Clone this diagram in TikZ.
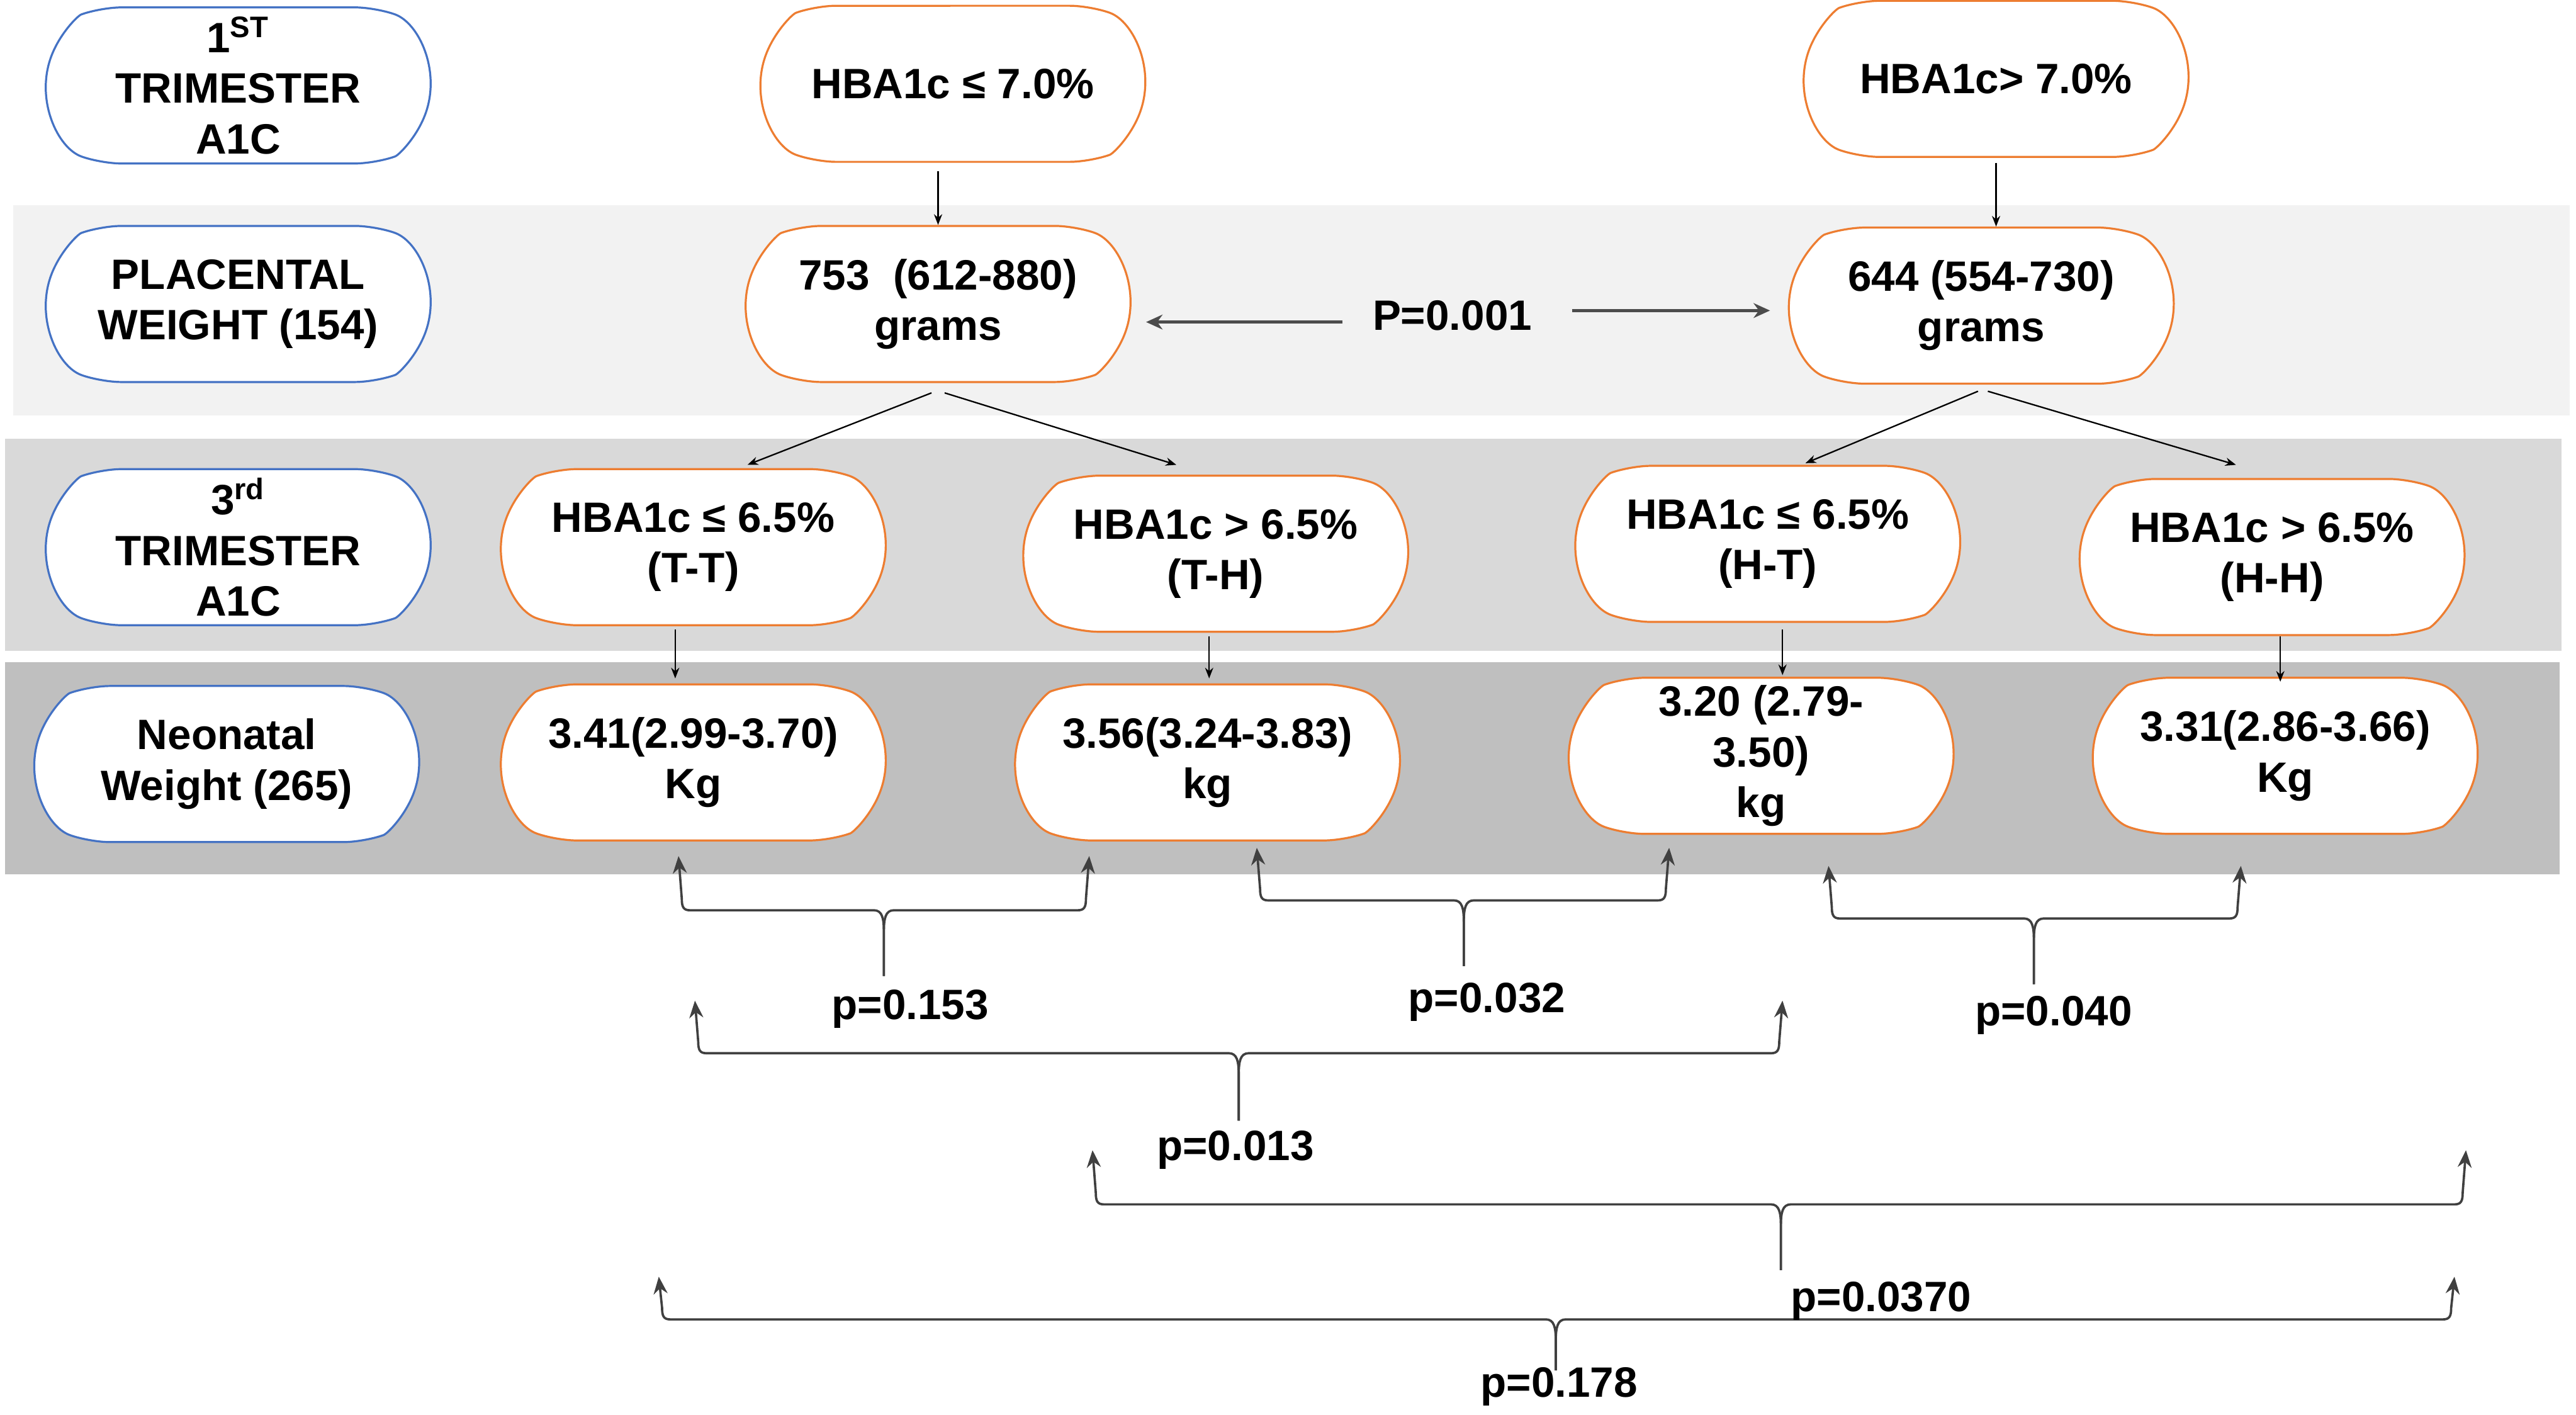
\documentclass[tikz,border=0pt]{standalone}
\usepackage{fontspec}
\setmainfont{Liberation Sans}
\usetikzlibrary{shapes.misc,calc,arrows.meta}

\definecolor{boxorange}{HTML}{ED7D31}
\definecolor{boxblue}{HTML}{4472C4}
\definecolor{band1}{HTML}{F2F2F2}
\definecolor{band2}{HTML}{D9D9D9}
\definecolor{band3}{HTML}{BFBFBF}

\begin{document}
\begin{tikzpicture}[x=0.2mm, y=-0.2mm,
  every node/.style={font=\fontsize{14.7}{17.5}\selectfont\bfseries, align=center},
  pill/.style={rounded rectangle, rounded rectangle arc length=140, rounded corners=2.5mm,
    draw, fill=white, line width=0.7pt, minimum width=46.8mm, minimum height=19mm, inner sep=0pt},
  rowlabel/.style={pill, draw=boxblue},
  group/.style={pill, draw=boxorange},
  link/.style={->, >={Stealth[length=1.3mm, width=1mm]}, line width=0.5pt},
  plink/.style={->, >={Stealth[length=2mm, width=1.8mm]}, line width=1.2pt, black!70},
  pbrace/.style={->, >={Stealth[length=2.1mm, width=1.7mm]}, draw=black!75, line width=0.8pt}]

% The picture is measured in pixels of the shrunk figure, y going down
\useasboundingbox (0,0) rectangle (1568,861);

% Shaded bands behind the rows
\fill[band1] (8,125) rectangle (1564,253);
\fill[band2] (3,267) rectangle (1559,396);
\fill[band3] (3,403) rectangle (1558,532);

% Row titles
\node[rowlabel] (first)    at (145,52)  {1\textsuperscript{ST}\\TRIMESTER\\A1C};
\node[rowlabel] (placenta) at (145,185) {PLACENTAL\\WEIGHT (154)};
\node[rowlabel] (third)    at (145,333) {3\textsuperscript{rd}\\TRIMESTER\\A1C};
\node[rowlabel] (neonatal) at (138,465) {Neonatal\\Weight (265)};

% 1st trimester groups and placental weight
\node[group] (low1)   at (580,51)  {HBA1c ≤ 7.0\%};
\node[group] (high1)  at (1215,48) {HBA1c> 7.0\%};
\node[group] (pwlow)  at (571,185) {753\ \ (612-880)\\grams};
\node[group] (pwhigh) at (1206,186) {644 (554-730)\\grams};
\node[inner sep=0pt] (p001) at (884,192) {P=0.001};

% 3rd trimester groups
\node[group] (tt) at (422,333)  {HBA1c ≤ 6.5\%\\(T-T)};
\node[group] (th) at (740,337)  {HBA1c > 6.5\%\\(T-H)};
\node[group] (ht) at (1076,331) {HBA1c ≤ 6.5\%\\(H-T)};
\node[group] (hh) at (1383,339) {HBA1c > 6.5\%\\(H-H)};

% Neonatal weights
\node[group] (wtt) at (422,464)  {3.41(2.99-3.70)\\Kg};
\node[group] (wth) at (735,464)  {3.56(3.24-3.83)\\kg};
\node[group] (wht) at (1072,460) {3.20 (2.79-\\3.50)\\kg};
\node[group] (whh) at (1391,460) {3.31(2.86-3.66)\\Kg};

% Arrows down the tree
\draw[link, shorten <=1mm] (pwlow.north |- low1.south) -- (pwlow.north);
\draw[link, shorten <=0.6mm] (high1.south) -- (high1.south |- pwhigh.north);
\draw[link] ($(pwlow.south)+(-4,6)$) -- ($(tt.north)+(33,-2)$);
\draw[link] ($(pwlow.south)+(4,6)$) -- ($(th.north)+(-24,-6)$);
\draw[link] ($(pwhigh.south)+(-2,4)$) -- ($(ht.north)+(23,-1)$);
\draw[link] ($(pwhigh.south)+(4,4)$) -- ($(hh.north)+(-22,-8)$);
\draw[link] ($(tt.south)+(-11,2)$) -- ($(wtt.north)+(-11,-3)$);
\draw[link] ($(th.south)+(-4,2)$) -- ($(wth.north)+(1,-3)$);
\draw[link] ($(ht.south)+(9,4)$) -- ($(wht.north)+(13,-1)$);
\draw[link] ($(hh.south)+(5,0)$) -- ($(whh.north)+(-3,3)$);

% P value between the placental weights
\draw[plink] ($(p001.west)+(-18,4)$) -- ($(pwlow.east)+(9,11)$);
\draw[plink] ($(p001.east)+(24,-3)$) -- ($(pwhigh.west)+(-11,3)$);

% Brackets: name / left x / right x / tip y / bar y / stem x / stem bottom y
\foreach \n/\lx/\rx/\ty/\by/\mx/\sy in {153/413/663/521/554/538/594,
    032/765/1016/516/548/891/588, 040/1113/1364/527/559/1238/599,
    013/423/1085/609/641/754/682, 0370/665/1501/700/733/1084/773,
    178/401/1494/777/803/947/834}{
  \coordinate (\n left)  at (\lx,\ty);
  \coordinate (\n right) at (\rx,\ty);
  \coordinate (\n stem)  at (\mx,\sy);
  \draw[pbrace] (\n stem) -- (\mx,\by+13) .. controls (\mx,\by+5) and (\mx-1,\by) .. (\mx-6,\by)
    -- (\lx+7,\by) .. controls (\lx+3,\by) and (\lx+2,\by-2) .. (\lx+2,\by-7) -- (\n left);
  \draw[pbrace] (\n stem) -- (\mx,\by+13) .. controls (\mx,\by+5) and (\mx+1,\by) .. (\mx+6,\by)
    -- (\rx-7,\by) .. controls (\rx-3,\by) and (\rx-2,\by-2) .. (\rx-2,\by-7) -- (\n right);
}

% p values
\node (p153)  at (554,614)  {p=0.153};
\node (p032)  at (905,610)  {p=0.032};
\node (p040)  at (1250,618) {p=0.040};
\node (p013)  at (752,700)  {p=0.013};
\node (p0370) at (1145,792) {p=0.0370};
\node (p178)  at (949,844)  {p=0.178};

\end{tikzpicture}
\end{document}
